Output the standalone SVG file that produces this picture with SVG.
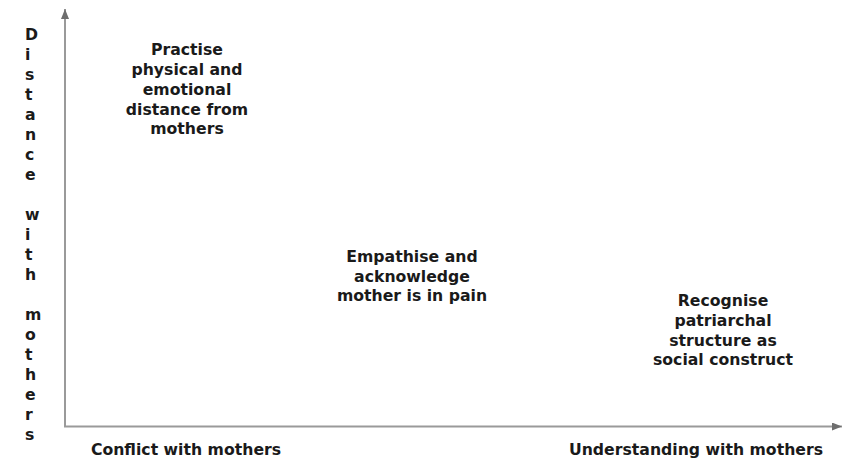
<svg xmlns="http://www.w3.org/2000/svg" width="848" height="460" viewBox="0 0 848 460">
<style>
text{font-family:"DejaVu Sans","Liberation Sans",sans-serif;font-weight:bold;font-size:15.7px;fill:#1a1a1a}
.c{text-anchor:middle}
.axis{stroke:#9a9a9a;stroke-width:2;fill:none}
</style>
<defs>
<marker id="ah" viewBox="0 0 10 8" refX="10" refY="4" markerUnits="userSpaceOnUse" markerWidth="10" markerHeight="8" orient="auto">
<path d="M0,0 L10,4 L0,8 Z" fill="#6e6e6e"/>
</marker>
</defs>
<g id="connectors">
<line class="axis" x1="65" y1="427" x2="65" y2="9" marker-end="url(#ah)"/>
<line class="axis" x1="64" y1="426.5" x2="842" y2="426.5" marker-end="url(#ah)"/>
</g>
<g id="y-axis-label">
<text x="25" y="40">D</text><text x="25" y="60">i</text><text x="25" y="80">s</text><text x="25" y="100">t</text><text x="25" y="120">a</text><text x="25" y="140">n</text><text x="25" y="160">c</text><text x="25" y="180">e</text>
<text x="25" y="220">w</text><text x="25" y="240">i</text><text x="25" y="260">t</text><text x="25" y="280">h</text>
<text x="25" y="320">m</text><text x="25" y="340">o</text><text x="25" y="360">t</text><text x="25" y="380">h</text><text x="25" y="400">e</text><text x="25" y="420">r</text><text x="25" y="440">s</text>
</g>
<g id="x-axis-left-label"><text class="c" x="186" y="455">Conflict with mothers</text></g>
<g id="x-axis-right-label"><text class="c" x="696" y="455">Understanding with mothers</text></g>
<g id="node-distance">
<text class="c" x="187" y="55">Practise</text>
<text class="c" x="187" y="75">physical and</text>
<text class="c" x="187" y="95">emotional</text>
<text class="c" x="187" y="114.5">distance from</text>
<text class="c" x="187" y="134">mothers</text>
</g>
<g id="node-empathise">
<text class="c" x="412" y="262">Empathise and</text>
<text class="c" x="412" y="281.5">acknowledge</text>
<text class="c" x="412" y="301">mother is in pain</text>
</g>
<g id="node-recognise">
<text class="c" x="723" y="306">Recognise</text>
<text class="c" x="723" y="326">patriarchal</text>
<text class="c" x="723" y="345.5">structure as</text>
<text class="c" x="723" y="365">social construct</text>
</g>
</svg>
